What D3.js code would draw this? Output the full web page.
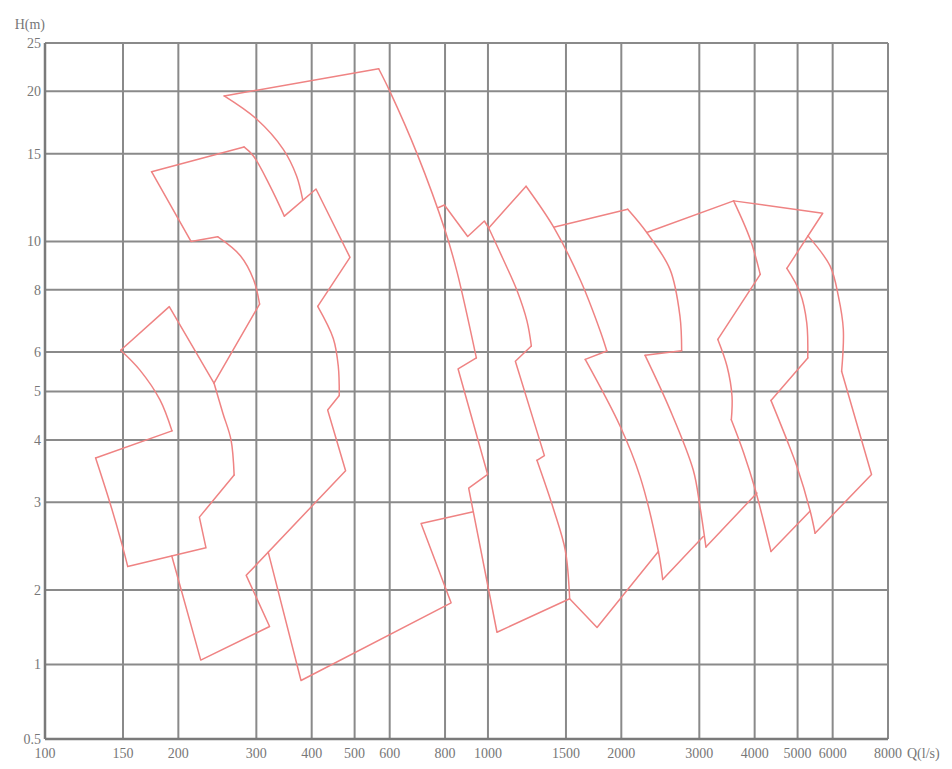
<!DOCTYPE html>
<html><head><meta charset="utf-8">
<script src="https://cdn.jsdelivr.net/npm/d3@7"></script>
<style>body{margin:0;background:#fff}</style>
</head><body><svg id="c" width="952" height="769"></svg>
<script>
// ---- data ----
const xTicks = [100,150,200,300,400,500,600,800,1000,1500,2000,3000,4000,5000,6000,8000];
const yTicks = [0.5,1,2,3,4,5,6,8,10,15,20,25];
const xTitle = "Q(l/s)";
const yTitle = "H(m)";

// each outline: runs of [Q, H] points; "line" runs are straight polylines, "curve" runs are smooth
const pumpA = [
  {curve: [[153.7,2.23],[149,2.48],[140.2,2.99],[130.1,3.68]]},
  {line:  [[130.1,3.68],[193.5,4.17]]},
  {curve: [[193.5,4.17],[181.8,4.81],[163.8,5.52],[148.2,6.05]]},
  {line:  [[148.2,6.05],[190.8,7.40],[240.7,5.20]]},
  {curve: [[240.7,5.20],[252.2,4.52],[263,4.0],[267.3,3.40]]},
  {line:  [[267.3,3.40],[223.1,2.80],[230.9,2.43],[153.7,2.23]]}
];
const pumpB = [
  {line:  [[174.0,13.8],[281.4,15.47]]},
  {curve: [[281.4,15.47],[295.4,14.84],[322.2,12.91],[347.0,11.24]]},
  {line:  [[347.0,11.24],[409.1,12.74],[488.1,9.29],[412.7,7.41]]},
  {curve: [[412.7,7.41],[447.5,6.39],[459.3,5.62],[461.7,4.91]]},
  {line:  [[461.7,4.91],[434.6,4.59],[477.1,3.47],[284.6,2.14],[321.4,1.424],[224.7,1.042],[193.3,2.34]]}
];
const pumpB2 = [
  {line:  [[174.0,13.8],[213.6,10.0],[245.3,10.22]]},
  {curve: [[245.3,10.22],[276.1,9.36],[295.9,8.37],[305.1,7.49]]},
  {line:  [[305.1,7.49],[240.7,5.20]]}
];
const pumpTop = [
  {curve: [[253.8,19.58],[300.7,17.58],[345.1,15.3],[369.8,13.53],[381.9,12.1]]},
  {line:  [[253.8,19.58],[566.6,22.2]]},
  {curve: [[566.6,22.2],[599.9,20.04],[691.6,15.0],[801.3,10.48],[851.7,8.68],[941.5,5.84]]},
  {line:  [[941.5,5.84],[856.2,5.55],[998.5,3.41],[904.6,3.20],[1048,1.35],[1529,1.844],[1763,1.411],[2425,2.39]]}
];
const pumpC = [
  {line:  [[773.8,11.70],[797.3,11.83],[900,10.23],[981.5,10.99],[1004,10.64]]},
  {curve: [[1004,10.64],[1081,9.23],[1163,7.97],[1225,6.92],[1253,6.17]]},
  {line:  [[1253,6.17],[1153,5.75],[1341,3.72],[1290,3.64]]},
  {curve: [[1290,3.64],[1407,2.90],[1495,2.40],[1529,1.844]]}
];
const pumpD = [
  {line:  [[1004,10.64],[1219,12.9]]},
  {curve: [[1219,12.9],[1407,10.68],[1617,8.36],[1794,6.60],[1855,6.03]]},
  {line:  [[1855,6.03],[1658,5.80]]},
  {curve: [[1658,5.80],[1988,4.26],[2204,3.38],[2425,2.39],[2480,2.10]]},
  {line:  [[2480,2.10],[3062,2.56]]}
];
const pumpE = [
  {line:  [[1407,10.68],[2068,11.60]]},
  {curve: [[2068,11.60],[2283,10.42],[2576,8.79],[2713,7.08],[2737,6.04]]},
  {line:  [[2737,6.04],[2263,5.91]]},
  {curve: [[2263,5.91],[2576,4.60],[2907,3.48],[3010,2.94],[3105,2.44]]},
  {line:  [[3105,2.44],[4048,3.13]]}
];
const pumpF = [
  {line:  [[2283,10.42],[3586,12.06]]},
  {curve: [[3586,12.06],[3909,10.10],[4118,8.59]]},
  {line:  [[4118,8.59],[3303,6.36]]},
  {curve: [[3303,6.36],[3465,5.62],[3556,4.89],[3543,4.39]]},
  {curve: [[3543,4.39],[3777,3.77],[4012,3.18],[4354,2.39]]},
  {line:  [[4354,2.39],[5338,2.88]]}
];
const pumpG = [
  {line:  [[3586,12.06],[5698,11.39],[4729,8.83]]},
  {curve: [[4729,8.83],[5067,7.89],[5244,6.87],[5272,5.84]]},
  {line:  [[5272,5.84],[4354,4.80]]},
  {curve: [[4354,4.80],[4729,4.0],[4981,3.54],[5338,2.88],[5476,2.60]]},
  {line:  [[5476,2.60],[7344,3.41],[6286,5.49]]},
  {curve: [[6286,5.49],[6342,6.66],[6180,7.77],[5919,8.93],[5277,10.26]]}
];
const pumpH = [
  {line:  [[319.2,2.38],[378.4,0.862],[825.6,1.775],[706.3,2.72],[926.5,2.87]]}
];
const outlines = [pumpA, pumpB, pumpB2, pumpTop, pumpC, pumpD, pumpE, pumpF, pumpG, pumpH];

// ---- chart ----
const svg = d3.select("#c");
const x = d3.scaleLog().domain([100, 8000]).range([45, 888]);
const y = d3.scaleLog().domain([0.5, 2, 25]).range([739, 590, 43]);

const gridColor = "#8a8a8a";
const textColor = "#777";
const font = "'Liberation Serif','DejaVu Serif',serif";

const grid = svg.append("g");
grid.selectAll("line.v").data(xTicks).join("line")
  .attr("x1", d => x(d)).attr("x2", d => x(d))
  .attr("y1", y(25)).attr("y2", y(0.5))
  .attr("stroke", gridColor).attr("stroke-width", 2);
grid.selectAll("line.h").data(yTicks).join("line")
  .attr("y1", d => y(d)).attr("y2", d => y(d))
  .attr("x1", x(100)).attr("x2", x(8000))
  .attr("stroke", gridColor).attr("stroke-width", 2);

// axes lines
svg.append("line").attr("x1", x(100)).attr("x2", x(100)).attr("y1", y(25)).attr("y2", y(0.5))
  .attr("stroke", "#7a7a7a").attr("stroke-width", 2.5);
svg.append("line").attr("x1", x(100)).attr("x2", x(8000)).attr("y1", y(0.5)).attr("y2", y(0.5))
  .attr("stroke", "#7a7a7a").attr("stroke-width", 2.5);

// tick labels
svg.append("g").selectAll("text").data(xTicks).join("text")
  .attr("x", d => x(d)).attr("y", 758)
  .attr("text-anchor", "middle")
  .attr("font-family", font).attr("font-size", 14).attr("fill", textColor)
  .text(d => d);
svg.append("g").selectAll("text").data(yTicks).join("text")
  .attr("x", 41).attr("y", d => y(d)).attr("dy", "0.35em")
  .attr("text-anchor", "end")
  .attr("font-family", font).attr("font-size", 14).attr("fill", textColor)
  .text(d => d);
svg.append("text").attr("x", 45).attr("y", 29).attr("text-anchor", "end")
  .attr("font-family", font).attr("font-size", 14).attr("fill", textColor).text(yTitle);
svg.append("text").attr("x", 907).attr("y", 758).attr("text-anchor", "start")
  .attr("font-family", font).attr("font-size", 14).attr("fill", textColor).text(xTitle);

// outlines
const lineL = d3.line().x(d => x(d[0])).y(d => y(d[1])).curve(d3.curveLinear);
const lineC = d3.line().x(d => x(d[0])).y(d => y(d[1])).curve(d3.curveCatmullRom.alpha(0.5));
const g = svg.append("g").attr("fill", "none").attr("stroke", "#ef8383")
  .attr("stroke-width", 1.5).attr("stroke-linejoin", "round").attr("stroke-linecap", "round");
outlines.forEach(o => o.forEach(run => {
  g.append("path").attr("d", run.line ? lineL(run.line) : lineC(run.curve));
}));
</script>
</body></html>
